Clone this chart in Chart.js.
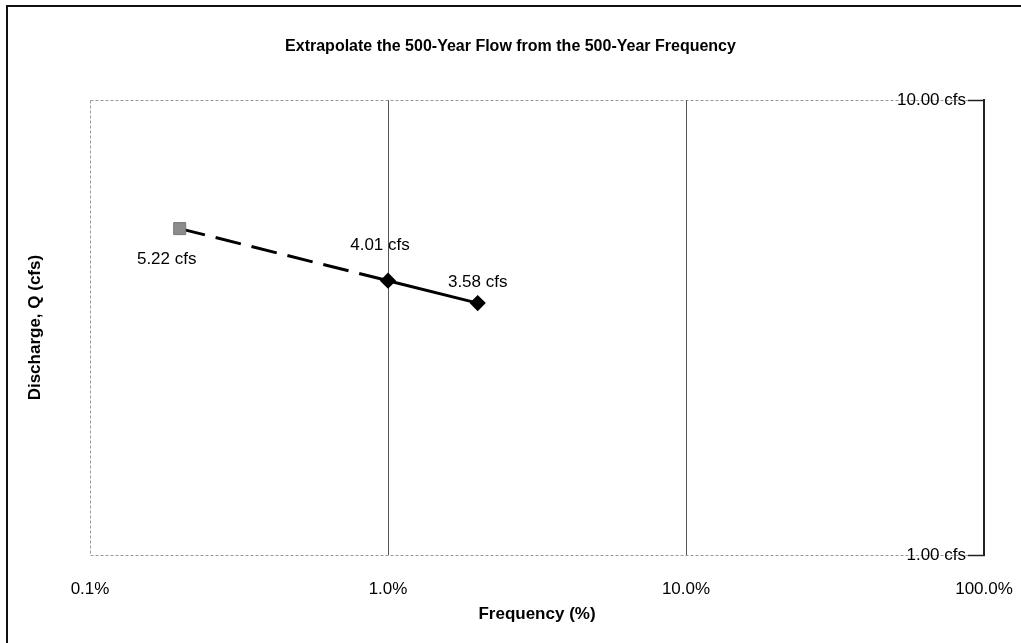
<!DOCTYPE html>
<html>
<head>
<meta charset="utf-8">
<script src="https://cdn.jsdelivr.net/npm/chart.js@4.4.0/dist/chart.umd.min.js"></script>
<style>
  html, body { margin: 0; padding: 0; background: #fff; }
  #wrap { width: 1021px; height: 643px; }
</style>
</head>
<body>
<div id="wrap"><canvas id="freqChart" width="1021" height="643"></canvas></div>
<script>
const chartTitle = 'Extrapolate the 500-Year Flow from the 500-Year Frequency';

// frequency in percent, discharge in cfs
const computedFreq = [1.0, 2.0];
const computedFlow = [4.01, 3.58];
const extrapFreq = [0.2, 1.0];
const extrapFlow = [5.22, 4.01];

const xTicks = [0.1, 1, 10, 100];
const yTicks = [1, 10];

const FONT = '"Liberation Sans", Arial, sans-serif';

// white page, scanned frame edge and the grey plot-area outline
const frame = {
    id: 'frame',
    beforeDraw(chart) {
        const { ctx, chartArea: a } = chart;
        ctx.save();
        ctx.fillStyle = '#fff';
        ctx.fillRect(0, 0, chart.width, chart.height);
        ctx.strokeStyle = '#111';
        ctx.lineWidth = 2;
        ctx.beginPath();
        ctx.moveTo(7, chart.height);
        ctx.lineTo(7, 6);
        ctx.lineTo(chart.width, 6);
        ctx.stroke();
        ctx.strokeStyle = '#999';
        ctx.lineWidth = 1;
        ctx.setLineDash([3, 2]);
        ctx.strokeRect(Math.round(a.left) + 0.5, Math.round(a.top) + 0.5, Math.round(a.width), Math.round(a.height));
        ctx.restore();
    }
};

// "x.xx cfs" labels next to the points
const valueLabels = {
    id: 'valueLabels',
    afterDatasetsDraw(chart, args, opts) {
        const { ctx } = chart;
        ctx.save();
        ctx.font = '17px ' + FONT;
        ctx.fillStyle = '#000';
        ctx.textAlign = 'center';
        ctx.textBaseline = 'middle';
        opts.items.forEach(it => {
            const pt = chart.getDatasetMeta(it.ds).data[it.i];
            const v = chart.data.datasets[it.ds].data[it.i].y;
            ctx.fillText(v.toFixed(2) + ' cfs', pt.x + it.dx, pt.y + it.dy);
        });
        ctx.restore();
    }
};

const ctx = document.getElementById('freqChart').getContext('2d');
new Chart(ctx, {
    type: 'line',
    data: {
        datasets: [
            {
                label: 'Computed',
                data: computedFreq.map((x, i) => ({ x, y: computedFlow[i] })),
                borderColor: '#000',
                borderWidth: 3,
                pointStyle: 'rectRot',
                pointRadius: 6,
                pointBackgroundColor: '#000',
                pointBorderColor: '#000',
                tension: 0
            },
            {
                label: 'Extrapolated',
                data: extrapFreq.map((x, i) => ({ x, y: extrapFlow[i] })),
                borderColor: '#000',
                borderWidth: 3,
                borderDash: [26, 11],
                pointStyle: 'rect',
                pointRadius: [8.5, 0],
                pointBackgroundColor: '#8c8c8c',
                pointBorderColor: '#777',
                pointBorderWidth: 1,
                tension: 0
            }
        ]
    },
    options: {
        responsive: false,
        animation: false,
        layout: { padding: 0 },
        scales: {
            x: {
                type: 'logarithmic',
                position: 'bottom',
                min: 0.1,
                max: 100,
                afterBuildTicks: s => { s.ticks = xTicks.map(v => ({ value: v })); },
                afterFit: s => {
                    s.height = 88;
                    // end labels may hang past the plot edges
                    s.paddingLeft = 0;
                    s.paddingRight = 0;
                },
                ticks: {
                    padding: 24,
                    color: '#000',
                    autoSkip: false,
                    maxRotation: 0,
                    font: { family: FONT, size: 17 },
                    callback: v => Number(v).toFixed(1) + '%'
                },
                grid: {
                    drawTicks: false,
                    lineWidth: 1,
                    color: c => (c.tick && (c.tick.value === 1 || c.tick.value === 10)) ? '#555' : 'rgba(0,0,0,0)'
                },
                border: { display: false },
                title: {
                    display: true,
                    text: 'Frequency (%)',
                    color: '#000',
                    font: { family: FONT, size: 17, weight: 'bold' },
                    padding: { top: 0, bottom: 18 }
                }
            },
            y: {
                type: 'logarithmic',
                position: 'right',
                min: 1,
                max: 10,
                afterBuildTicks: s => { s.ticks = yTicks.map(v => ({ value: v })); },
                afterFit: s => { s.width = 37; },
                ticks: {
                    mirror: true,
                    padding: -18,
                    color: '#000',
                    font: { family: FONT, size: 17 },
                    callback: v => Number(v).toFixed(2) + ' cfs'
                },
                grid: {
                    drawOnChartArea: false,
                    drawTicks: true,
                    tickLength: -16,
                    tickColor: '#222',
                    tickWidth: 1.5
                },
                border: { display: true, color: '#222', width: 2 }
            },
            yTitle: {
                type: 'logarithmic',
                position: 'left',
                min: 1,
                max: 10,
                afterFit: s => { s.width = 90; },
                ticks: { display: false },
                grid: { display: false },
                border: { display: false },
                title: {
                    display: true,
                    text: 'Discharge, Q (cfs)',
                    color: '#000',
                    font: { family: FONT, size: 17, weight: 'bold' },
                    padding: { top: 25, bottom: 0 }
                }
            }
        },
        plugins: {
            legend: { display: false },
            tooltip: { enabled: false },
            title: {
                display: true,
                text: chartTitle,
                color: '#000',
                font: { family: FONT, size: 16, weight: 'bold' },
                padding: { top: 37, bottom: 44 }
            },
            valueLabels: {
                items: [
                    { ds: 1, i: 0, dx: -13, dy: 31 },
                    { ds: 0, i: 0, dx: -8, dy: -35 },
                    { ds: 0, i: 1, dx: 0, dy: -21 }
                ]
            }
        }
    },
    plugins: [frame, valueLabels]
});
</script>
</body>
</html>
